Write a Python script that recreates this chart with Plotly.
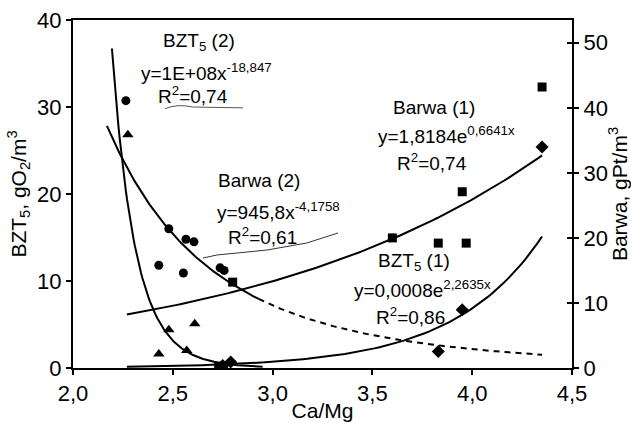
import numpy as np
import plotly.graph_objects as go

# ---- data ----
# Barwa (2) data (circles, right axis)
barwa2_x = [2.265, 2.43, 2.48, 2.553, 2.566, 2.606, 2.737, 2.757]
barwa2_y = [41.1, 15.8, 21.4, 14.6, 19.8, 19.4, 15.4, 15.0]
# BZT5 (2) data (triangles, left axis)
bzt2_x = [2.275, 2.43, 2.48, 2.57, 2.61, 2.75]
bzt2_y = [26.8, 1.6, 4.4, 2.0, 5.1, 0.3]
# Barwa (1) data (squares, right axis)
barwa1_x = [2.73, 2.80, 3.60, 3.83, 3.95, 3.97, 4.35]
barwa1_y = [0.3, 13.2, 20.0, 19.2, 27.1, 19.2, 43.2]
# BZT5 (1) data (diamonds, left axis)
bzt1_x = [2.75, 2.79, 3.83, 3.95, 4.35]
bzt1_y = [0.3, 0.7, 1.9, 6.7, 25.4]

# trend-line equations printed on the chart
bzt1_a, bzt1_b = 0.0008, 2.2635        # y = a*e^(b x)
barwa1_a, barwa1_b = 1.8184, 0.6641    # y = a*e^(b x)
bzt2_a, bzt2_b = 1e8, -18.847          # y = a*x^b
barwa2_a, barwa2_b = 945.8, -4.1758    # y = a*x^b

x_ticks = [2.0, 2.5, 3.0, 3.5, 4.0, 4.5]

FONT = "Liberation Sans, Arial, sans-serif"

fig = go.Figure()

def exp_fit(a, b, x):
    return a * np.exp(b * x)

def pow_fit(a, b, x):
    return a * np.power(x, b)

line = dict(color="black", width=2)

# trend lines
xs = np.linspace(2.195, 2.95, 120)
fig.add_trace(go.Scatter(x=xs, y=pow_fit(bzt2_a, bzt2_b, xs), mode="lines", line=line, yaxis="y"))
xs = np.linspace(2.17, 2.93, 100)
fig.add_trace(go.Scatter(x=xs, y=pow_fit(barwa2_a, barwa2_b, xs), mode="lines", line=line, yaxis="y2"))
xs = np.linspace(2.93, 4.35, 100)
fig.add_trace(go.Scatter(x=xs, y=pow_fit(barwa2_a, barwa2_b, xs), mode="lines",
                         line=dict(color="black", width=2, dash="6px,5px"), yaxis="y2"))
xs = np.linspace(2.27, 4.35, 100)
fig.add_trace(go.Scatter(x=xs, y=exp_fit(barwa1_a, barwa1_b, xs), mode="lines", line=line, yaxis="y2"))
xs = np.linspace(2.27, 4.35, 100)
fig.add_trace(go.Scatter(x=xs, y=exp_fit(bzt1_a, bzt1_b, xs), mode="lines", line=line, yaxis="y"))

# data points
fig.add_trace(go.Scatter(x=barwa2_x, y=barwa2_y, mode="markers", yaxis="y2",
                         marker=dict(symbol="circle", size=9, color="black")))
fig.add_trace(go.Scatter(x=bzt2_x, y=bzt2_y, mode="markers", yaxis="y",
                         marker=dict(symbol="triangle-up", size=10, color="black")))
fig.add_trace(go.Scatter(x=barwa1_x, y=barwa1_y, mode="markers", yaxis="y2",
                         marker=dict(symbol="square", size=9, color="black")))
fig.add_trace(go.Scatter(x=bzt1_x, y=bzt1_y, mode="markers", yaxis="y",
                         marker=dict(symbol="diamond", size=10, color="black")))
# invisible trace for the inner tick axis on the right
fig.add_trace(go.Scatter(x=[None], y=[None], mode="markers", yaxis="y3", hoverinfo="skip"))

# labels
labels = [
    (2.63, 37.5, "BZT<sub>5</sub> (2)"),
    (2.67, 34.0, "y=1E+08x<sup>-18,847</sup>"),
    (2.6, 31.4, "R<sup>2</sup>=0,74"),
    (2.93, 21.6, "Barwa (2)"),
    (3.03, 18.0, "y=945,8x<sup>-4,1758</sup>"),
    (2.95, 15.2, "R<sup>2</sup>=0,61"),
    (3.81, 29.9, "Barwa (1)"),
    (3.87, 26.8, "y=1,8184e<sup>0,6641x</sup>"),
    (3.80, 23.7, "R<sup>2</sup>=0,74"),
    (3.71, 12.2, "BZT<sub>5</sub> (1)"),
    (3.75, 9.1, "y=0,0008e<sup>2,2635x</sup>"),
    (3.69, 6.0, "R<sup>2</sup>=0,86"),
]
for x, y, t in labels:
    fig.add_annotation(x=x, y=y, xref="x", yref="y", text=t, showarrow=False,
                       font=dict(family=FONT, size=19, color="black"))

# hand-drawn strokes
fig.add_shape(type="path", xref="x", yref="y",
              path="M 2.461 29.8 Q 2.52 30.4 2.60 30.0 L 2.852 29.9",
              line=dict(color="#555", width=1))
fig.add_shape(type="path", xref="x", yref="y",
              path="M 2.651 12.64 L 2.721 12.99 L 2.972 13.56 L 3.172 14.37 L 3.328 15.52",
              line=dict(color="#333", width=1))

tick = dict(ticklen=5, tickwidth=1.5, tickcolor="black")

fig.update_layout(
    width=631, height=422,
    margin=dict(l=73, r=59, t=20, b=54, autoexpand=False),
    paper_bgcolor="white", plot_bgcolor="white",
    showlegend=False,
    separators=", ",
    font=dict(family=FONT, size=22, color="black"),
    xaxis=dict(range=[2.0, 4.5], tickvals=x_ticks, tickformat=".1f",
               showline=True, linecolor="black", linewidth=2, mirror=True,
               ticks="outside", **tick, automargin=False,
               showgrid=False, zeroline=False,
               title=dict(text="Ca/Mg", standoff=1, font=dict(size=21))),
    yaxis=dict(range=[0, 40], dtick=10, showline=True, linecolor="black", linewidth=2,
               ticks="outside", **tick, automargin=False,
               showgrid=False, zeroline=False,
               title=dict(text="BZT<sub>5</sub>, gO<sub>2</sub>/m<sup>3</sup>", standoff=5,
                          font=dict(size=21))),
    yaxis2=dict(range=[0, 53.5], dtick=10, overlaying="y", side="right",
                showline=True, linecolor="black", linewidth=2,
                ticks="outside", **tick, automargin=False,
                showgrid=False, zeroline=False,
                title=dict(text="Barwa, gPt/m<sup>3</sup>", standoff=6, font=dict(size=21))),
    yaxis3=dict(range=[0, 53.5], dtick=10, overlaying="y", side="right",
                showline=False, ticks="inside", **tick, showticklabels=False,
                automargin=False, showgrid=False, zeroline=False),
)

fig.write_html("out.html", config={"displayModeBar": False},
               post_script="document.body.style.margin='0px';document.body.style.overflow='hidden';")
